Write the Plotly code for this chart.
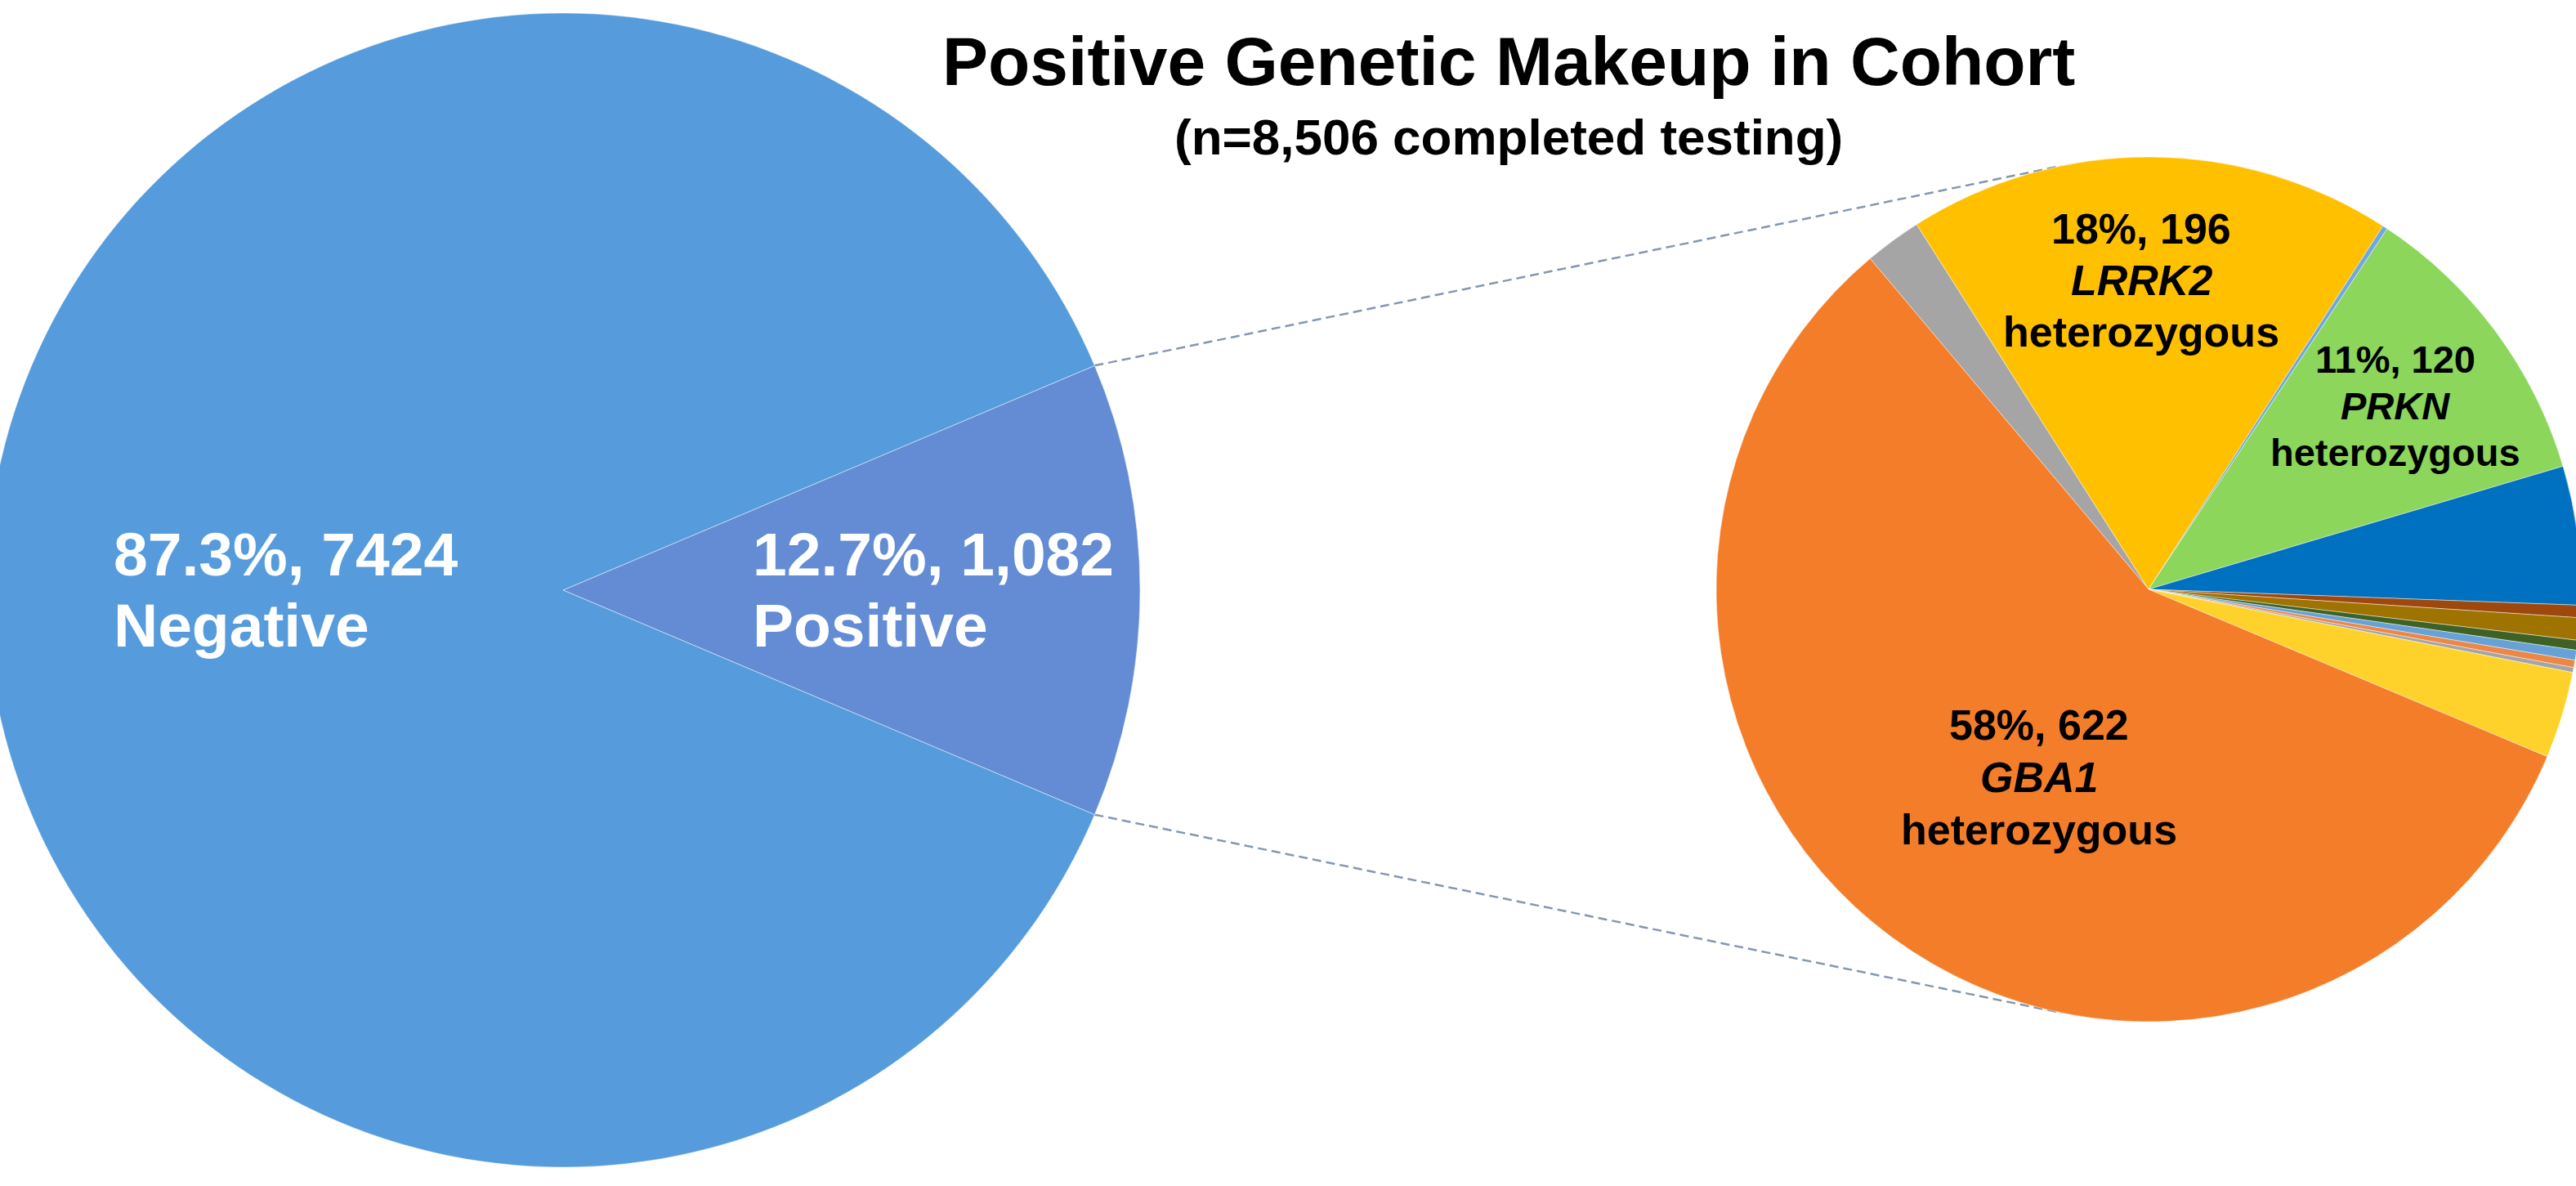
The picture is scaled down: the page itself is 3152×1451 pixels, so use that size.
import math
import plotly.graph_objects as go

# ---------------- data ----------------
overview_labels = ["Positive", "Negative"]
overview_counts = [1082, 7424]
overview_colors = ["#638CD5", "#569CDC"]

variant_labels = [
    "Other A", "LRRK2", "Other B", "PRKN", "Other C", "Other D", "Other E",
    "Other F", "Other G", "Other H", "Other I", "Other J", "GBA1",
]
variant_counts = [23, 196, 2, 120, 56, 5, 9, 4, 4, 3, 2, 35, 622]
variant_colors = [
    "#A5A5A5", "#FFC000", "#6FA8DC", "#8CD65C", "#0070C0", "#9E480E", "#9F7300",
    "#3F6224", "#66A2D8", "#EC8746", "#A5A5A5", "#FFD22B", "#F47D2A",
]
variant_zygosity = "heterozygous"
labelled_genes = ["LRRK2", "PRKN", "GBA1"]

title_text = "Positive Genetic Makeup in Cohort"
subtitle_text = "(n={:,} completed testing)".format(sum(overview_counts))

# ---------------- canvas geometry (px, y measured from the top) ----------------
W, H = 3175, 1451
BLEED = 17                      # page is shifted left so the big pie runs off the edge
LEFT_C, LEFT_R = (706, 722), 706
RIGHT_C, RIGHT_R = (2646, 721), 529
FONT = "Liberation Sans, Arial, sans-serif"


def pie_domain(c, r):
    return dict(x=[(c[0] - r) / W, (c[0] + r) / W],
                y=[(H - c[1] - r) / H, (H - c[1] + r) / H])


def px_to_paper(x, y):
    return x / W, 1 - y / H


def rim_point(c, r, ang_deg):
    a = math.radians(ang_deg)
    return c[0] + r * math.sin(a), c[1] - r * math.cos(a)


def tangent_point(p, c, r, upper):
    dx, dy = p[0] - c[0], p[1] - c[1]
    d = math.hypot(dx, dy)
    phi = math.atan2(dy, dx)
    alpha = math.acos(r / d)
    pts = [(c[0] + r * math.cos(phi + s * alpha), c[1] + r * math.sin(phi + s * alpha))
           for s in (1, -1)]
    return min(pts, key=lambda t: t[1]) if upper else max(pts, key=lambda t: t[1])


total_all = sum(overview_counts)
pos_share = overview_counts[0] / total_all
left_rotation = 90 - 180 * pos_share          # centre the positive slice at 3 o'clock
right_rotation = -40.1

fig = go.Figure()

fig.add_trace(go.Pie(
    labels=overview_labels, values=overview_counts, sort=False,
    direction="clockwise", rotation=left_rotation,
    marker=dict(colors=overview_colors, line=dict(color="rgba(255,255,255,0.45)", width=1)),
    textinfo="none", hoverinfo="label+value+percent",
    domain=pie_domain(LEFT_C, LEFT_R), showlegend=False,
))

fig.add_trace(go.Pie(
    labels=variant_labels, values=variant_counts, sort=False,
    direction="clockwise", rotation=right_rotation,
    marker=dict(colors=variant_colors, line=dict(color="rgba(255,255,255,0.45)", width=1)),
    textinfo="none", hoverinfo="label+value+percent",
    domain=pie_domain(RIGHT_C, RIGHT_R), showlegend=False,
))

# dashed connectors from the edges of the positive slice to the tangents of the detail pie
edge_top = rim_point(LEFT_C, LEFT_R, left_rotation)
edge_bot = rim_point(LEFT_C, LEFT_R, left_rotation + 360 * pos_share)
for p, upper in ((edge_top, True), (edge_bot, False)):
    t = tangent_point(p, RIGHT_C, RIGHT_R, upper)
    x0, y0 = px_to_paper(*p)
    x1, y1 = px_to_paper(*t)
    fig.add_shape(type="line", xref="paper", yref="paper", x0=x0, y0=y0, x1=x1, y1=y1,
                  line=dict(color="#8497B0", width=2.5, dash="11px,6px"), layer="below")


def add_text(x_px, y_px, text, size, color="black", xanchor="center", italic=False):
    x, y = px_to_paper(x_px, y_px)
    fig.add_annotation(
        x=x, y=y, xref="paper", yref="paper", text=text, showarrow=False,
        xanchor=xanchor, yanchor="middle", borderpad=0, borderwidth=0,
        font=dict(family=FONT, size=size, color=color, weight=700,
                  style="italic" if italic else "normal"),
    )


# overview pie labels (left aligned, white)
left_label_dx = {"Negative": -550, "Positive": 232}
count_fmt = {"Negative": "{}", "Positive": "{:,}"}
for name, v in zip(overview_labels, overview_counts):
    pct = 100 * v / total_all
    line1 = "{:.1f}%, ".format(pct) + count_fmt[name].format(v)
    x = LEFT_C[0] + left_label_dx[name]
    add_text(x, LEFT_C[1] - 44, line1, 75, "white", "left")
    add_text(x, LEFT_C[1] + 43, name, 75, "white", "left")

# detail pie labels (centred, three lines)
total_pos = sum(variant_counts)
label_place = {            # dx, first-line dy, line step, font size
    "LRRK2": (-9, -441, 63, 52),
    "PRKN": (302, -282, 57, 47),
    "GBA1": (-134, 166, 64, 52),
}
for gene in labelled_genes:
    v = variant_counts[variant_labels.index(gene)]
    dx, dy, step, size = label_place[gene]
    x = RIGHT_C[0] + dx
    y = RIGHT_C[1] + dy
    pct = int(math.floor(100 * v / total_pos + 0.5))
    add_text(x, y, "{}%, {}".format(pct, v), size)
    add_text(x, y + step, gene, size, italic=True)
    add_text(x, y + 2 * step, variant_zygosity, size)

# heading
add_text(1863, 75, title_text, 84)
add_text(1863, 168, subtitle_text, 62)

fig.update_layout(
    width=W, height=H, autosize=False,
    margin=dict(l=0, r=0, t=0, b=0, pad=0),
    paper_bgcolor="white", plot_bgcolor="white",
    font=dict(family=FONT),
)

shift_js = (
    "var gd = document.getElementById('{plot_id}');"
    "gd.style.position = 'absolute';"
    "gd.style.left = '-" + str(BLEED) + "px';"
    "gd.style.top = '0px';"
    "document.body.style.margin = '0';"
    "document.body.style.overflow = 'hidden';"
)

fig.write_html("out.html", config={"displayModeBar": False}, post_script=shift_js)
